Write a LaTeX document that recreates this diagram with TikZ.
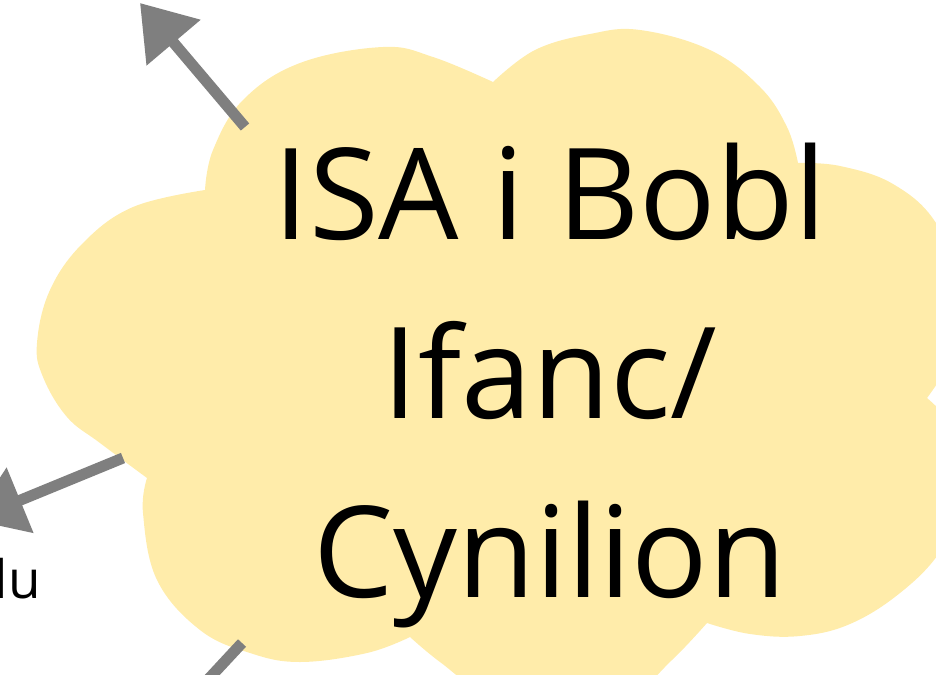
\documentclass[tikz,border=0pt]{standalone}
\usepackage{fontspec}
\setmainfont{Open Sans}
\usetikzlibrary{arrows.meta}
\definecolor{cloudfill}{RGB}{255,236,170}
\definecolor{linkgray}{RGB}{127,127,127}
\tikzset{
  link/.style={draw=linkgray, line width=11pt,
    -{Triangle[length=52pt,width=68pt]}},
  lobe/.style={smooth, tension=0.65},
}
\begin{document}
\begin{tikzpicture}[x=1pt, y=-1pt]
\useasboundingbox (0,0) rectangle (936,674);
\clip (0,0) rectangle (936,674);

% cloud outline, one smooth arc per lobe, sharp joins between lobes
\fill[cloudfill]
  plot[lobe] coordinates {(205,190) (133,207) (83,243) (50,290) (37,343) (43,377) (67,417) (100,443) (147,478)}
  -- plot[lobe] coordinates {(147,478) (143,513) (157,580) (200,630) (250,653) (300,662) (367,653) (410,637)}
  -- plot[lobe] coordinates {(410,637) (440,662) (485,692) (560,710) (630,695) (672,660) (707,623)}
  -- plot[lobe] coordinates {(707,623) (750,634) (800,636) (850,624) (900,593) (940,552) (965,500) (962,440) (927,398)}
  -- plot[lobe] coordinates {(927,398) (955,350) (962,290) (936,223) (893,184) (840,166) (798,163)}
  -- plot[lobe] coordinates {(798,163) (787,127) (760,87) (710,50) (640,30) (590,34) (535,50) (493,82)}
  -- plot[lobe] coordinates {(493,82) (433,57) (383,47) (300,63) (243,100) (213,150) (205,190)}
  -- cycle;

% label; its base anchor sits on the last line's baseline
\node[inner sep=0pt, align=center, anchor=base,
      font=\fontsize{127}{179}\selectfont] (cloud) at (550,597)
  {ISA i Bobl\\Ifanc/\\Cynilion};

\node[inner sep=0pt, anchor=base east, font=\fontsize{53}{64}\selectfont] (lbl) at (41,598) {lu};

% connector ends
\coordinate (s1) at (245,127);
\coordinate (e1) at (140,3);
\coordinate (s2) at (123,458);
\coordinate (e2) at (-28,520);
\coordinate (s3) at (242,643);
\coordinate (e3) at (150,742);

\draw[link] (s1) -- (e1);
\draw[link] (s2) -- (e2);
\draw[link] (s3) -- (e3);
\end{tikzpicture}
\end{document}
